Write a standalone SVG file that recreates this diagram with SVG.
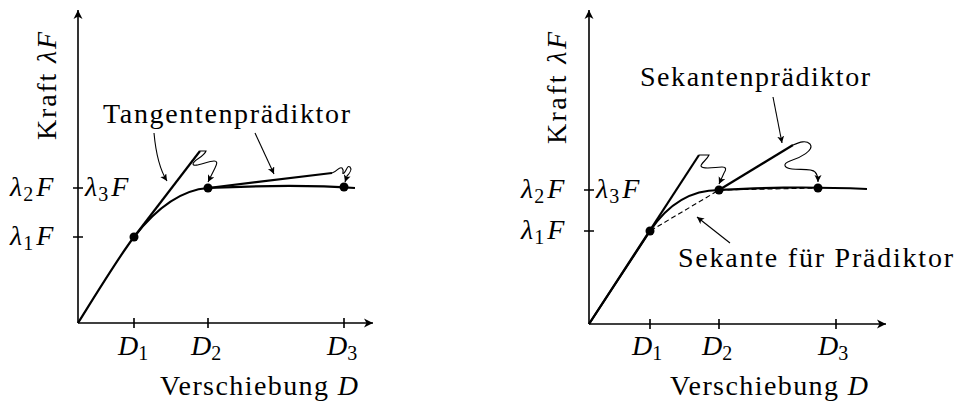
<svg xmlns="http://www.w3.org/2000/svg" width="957" height="403" viewBox="0 0 957 403">
<style>
.ax{stroke:#000;stroke-width:1.6;fill:none}
.cv{stroke:#000;stroke-width:2.2;fill:none}
.an{stroke:#000;stroke-width:1.1;fill:none}
.ds{stroke:#000;stroke-width:1.1;fill:none;stroke-dasharray:5 3}
text{font-family:"Liberation Serif","Times New Roman",serif;font-size:28px;fill:#000}
.it{font-style:italic}
.sub{font-size:20px}
</style>
<defs>
<marker id="axh" markerUnits="userSpaceOnUse" markerWidth="12" markerHeight="12" refX="9" refY="5" orient="auto"><path d="M0,0.5 L9,5 L0,9.5 L2.5,5 z" fill="#000"/></marker>
<marker id="arh" markerUnits="userSpaceOnUse" markerWidth="9" markerHeight="8" refX="7" refY="3.5" orient="auto"><path d="M0,0 L7,3.5 L0,7 L1.8,3.5 z" fill="#000"/></marker>
</defs>
<g id="left-plot">
<g id="left-axes">
<path class="ax" d="M78,323 L78,10" marker-end="url(#axh)"/>
<path class="ax" d="M78,323 L373,323" marker-end="url(#axh)"/>
<path class="ax" d="M134,318 L134,328 M208,318 L208,328 M344,318 L344,328 M73,237 L83,237 M73,188 L83,188"/>
</g>
<g id="left-curves">
<path class="cv" d="M78,323 C98,291 120,255 134,237 C155,210 180,190 208,188 C250,186 300,184 355,188"/>
<path class="cv" d="M134,237 L200,151"/>
<path class="cv" d="M208,188 L332,173"/>
<path class="an" d="M200,151 L206,151 C204,157 193,160 193,164 C193,168 208,161 214,161 C218,161 217,164 215,168 L208,182" marker-end="url(#arh)"/>
<path class="an" d="M332,173 C337,172 339,166 342,168 C345,171 341,175 344,173 C347,170 347,165 350,167 C352,169 350,173 347,176 L345,182" marker-end="url(#arh)"/>
<path class="an" d="M154,133 C156,155 160,170 167,181" marker-end="url(#arh)"/>
<path class="an" d="M255,133 L274,174" marker-end="url(#arh)"/>
</g>
<g id="left-points">
<circle cx="134" cy="237" r="4.5"/>
<circle cx="208" cy="188" r="4.5"/>
<circle cx="344" cy="187" r="4.5"/>
</g>
<g id="left-labels">
<text transform="translate(56,86) rotate(-90)" text-anchor="middle" textLength="108" lengthAdjust="spacing">Kraft <tspan class="it">λF</tspan></text>
<text x="103" y="123" textLength="247" lengthAdjust="spacing">Tangentenprädiktor</text>
<text x="10" y="196"><tspan class="it">λ</tspan><tspan class="sub" dy="5" dx="1">2</tspan><tspan class="it" dy="-5" dx="3">F</tspan></text>
<text x="85" y="196"><tspan class="it">λ</tspan><tspan class="sub" dy="5" dx="1">3</tspan><tspan class="it" dy="-5" dx="3">F</tspan></text>
<text x="10" y="245"><tspan class="it">λ</tspan><tspan class="sub" dy="5" dx="1">1</tspan><tspan class="it" dy="-5" dx="3">F</tspan></text>
<text x="118" y="355"><tspan class="it">D</tspan><tspan class="sub" dy="5">1</tspan></text>
<text x="191" y="355"><tspan class="it">D</tspan><tspan class="sub" dy="5">2</tspan></text>
<text x="327" y="355"><tspan class="it">D</tspan><tspan class="sub" dy="5">3</tspan></text>
<text x="160" y="395" textLength="198" lengthAdjust="spacing">Verschiebung <tspan class="it">D</tspan></text>
</g>
</g>
<g id="right-plot">
<g id="right-axes">
<path class="ax" d="M589,324 L589,10" marker-end="url(#axh)"/>
<path class="ax" d="M589,324 L886,324" marker-end="url(#axh)"/>
<path class="ax" d="M650,319 L650,329 M719,319 L719,329 M836,319 L836,329 M584,231 L594,231 M584,190 L594,190"/>
</g>
<g id="right-curves">
<path class="ds" d="M589,324 L650,231 L719,190 L818,188"/>
<path class="cv" d="M589,324 C609,293 630,262 650,231 C668,204 690,190 719,190 C760,188 800,186 867,189"/>
<path class="cv" d="M589,324 L699,155"/>
<path class="cv" d="M719,190 L793,145"/>
<path class="an" d="M699,155 L709,155 C707,160 701,163 701,166 C702,170 716,167 722,167 C727,167 726,170 724,173 L719,184" marker-end="url(#arh)"/>
<path class="an" d="M793,145 C800,142 806,140 810,144 C815,150 800,158 790,161 C782,164 784,168 792,169 C800,170 812,168 815,172 C817,174 818,177 818,182" marker-end="url(#arh)"/>
<path class="an" d="M773,97 L782,143" marker-end="url(#arh)"/>
<path class="an" d="M730,243 L697,217" marker-end="url(#arh)"/>
</g>
<g id="right-points">
<circle cx="650" cy="231" r="4.5"/>
<circle cx="719" cy="190" r="4.5"/>
<circle cx="818" cy="188" r="4.5"/>
</g>
<g id="right-labels">
<text transform="translate(566,88) rotate(-90)" text-anchor="middle" textLength="112" lengthAdjust="spacing">Kraft <tspan class="it">λF</tspan></text>
<text x="640" y="86" textLength="230" lengthAdjust="spacing">Sekantenprädiktor</text>
<text x="678" y="267" textLength="275" lengthAdjust="spacing">Sekante für Prädiktor</text>
<text x="521" y="198"><tspan class="it">λ</tspan><tspan class="sub" dy="5" dx="1">2</tspan><tspan class="it" dy="-5" dx="3">F</tspan></text>
<text x="596" y="198"><tspan class="it">λ</tspan><tspan class="sub" dy="5" dx="1">3</tspan><tspan class="it" dy="-5" dx="3">F</tspan></text>
<text x="521" y="239"><tspan class="it">λ</tspan><tspan class="sub" dy="5" dx="1">1</tspan><tspan class="it" dy="-5" dx="3">F</tspan></text>
<text x="632" y="355"><tspan class="it">D</tspan><tspan class="sub" dy="5">1</tspan></text>
<text x="702" y="355"><tspan class="it">D</tspan><tspan class="sub" dy="5">2</tspan></text>
<text x="818" y="355"><tspan class="it">D</tspan><tspan class="sub" dy="5">3</tspan></text>
<text x="670" y="395" textLength="198" lengthAdjust="spacing">Verschiebung <tspan class="it">D</tspan></text>
</g>
</g>
</svg>
